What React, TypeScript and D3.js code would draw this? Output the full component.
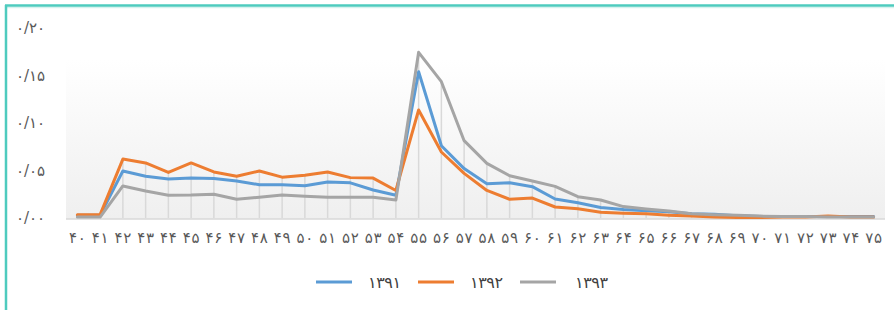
import React, { useEffect, useRef } from "react";
import { select, scaleBand, scaleLinear, line } from "d3";

// age categories (x axis), Persian digits
const ages = [
  "۴۰", "۴۱", "۴۲", "۴۳", "۴۴", "۴۵", "۴۶", "۴۷", "۴۸", "۴۹",
  "۵۰", "۵۱", "۵۲", "۵۳", "۵۴", "۵۵", "۵۶", "۵۷", "۵۸", "۵۹",
  "۶۰", "۶۱", "۶۲", "۶۳", "۶۴", "۶۵", "۶۶", "۶۷", "۶۸", "۶۹",
  "۷۰", "۷۱", "۷۲", "۷۳", "۷۴", "۷۵",
];

const s1391 = [
  0.003, 0.003, 0.0495, 0.044, 0.041, 0.042, 0.0415, 0.039, 0.035, 0.035,
  0.034, 0.038, 0.037, 0.0295, 0.024, 0.154, 0.076, 0.052, 0.036, 0.037,
  0.033, 0.02, 0.016, 0.011, 0.009, 0.0077, 0.0066, 0.0045, 0.004, 0.0025,
  0.0015, 0.0015, 0.0015, 0.0015, 0.0015, 0.0015,
];
const s1392 = [
  0.0035, 0.0035, 0.062, 0.058, 0.048, 0.058, 0.0485, 0.044, 0.0495, 0.043,
  0.045, 0.0485, 0.0425, 0.042, 0.029, 0.1137, 0.0695, 0.047, 0.029, 0.0197,
  0.021, 0.0116, 0.0098, 0.006, 0.005, 0.0045, 0.003, 0.002, 0.001, 0.0005,
  0.0005, 0.001, 0.001, 0.002, 0.001, 0.001,
];
const s1393 = [
  0.001, 0.001, 0.0337, 0.0284, 0.024, 0.0242, 0.025, 0.0197, 0.0218, 0.0242,
  0.023, 0.0218, 0.0218, 0.0218, 0.019, 0.1744, 0.1435, 0.0814, 0.0575, 0.0445,
  0.039, 0.0333, 0.0224, 0.019, 0.012, 0.0095, 0.0074, 0.0045, 0.0035, 0.003,
  0.002, 0.0015, 0.0015, 0.001, 0.001, 0.001,
];

const seriesNames = ["۱۳۹۱", "۱۳۹۲", "۱۳۹۳"];
const seriesColors = ["#5B9BD5", "#ED7D31", "#A5A5A5"];

const yTicks = [0, 0.05, 0.1, 0.15, 0.2];
const yTickLabels = ["۰/۰۰", "۰/۰۵", "۰/۱۰", "۰/۱۵", "۰/۲۰"];

const FONT = "'DejaVu Sans', sans-serif";

function App() {
  const svgRef = useRef<SVGSVGElement>(null);
  const W = 894,
    H = 310;
  const plot = { left: 66, right: 885, top: 60, bottom: 219 };

  useEffect(() => {
    const svg = select(svgRef.current);
    svg.selectAll("*").remove();

    const x = scaleBand().domain(ages).range([plot.left, plot.right]);
    const y = scaleLinear().domain([0, 0.2]).range([218, 28]);
    const cx = (a: string) => (x(a) as number) + x.bandwidth() / 2;

    const defs = svg.append("defs");
    const grad = defs
      .append("linearGradient")
      .attr("id", "bg")
      .attr("x1", 0)
      .attr("y1", 0)
      .attr("x2", 0)
      .attr("y2", 1);
    grad.append("stop").attr("offset", "0%").attr("stop-color", "#ffffff");
    grad.append("stop").attr("offset", "100%").attr("stop-color", "#efefef");

    // frame
    svg.append("rect").attr("x", 0).attr("y", 0).attr("width", W).attr("height", H).attr("fill", "#fff");
    svg.append("line").attr("x1", 5).attr("x2", W).attr("y1", 7.5).attr("y2", 7.5).attr("stroke", "#d6f2ee").attr("stroke-width", 1.5);
    svg.append("line").attr("x1", 5).attr("x2", W).attr("y1", 5.5).attr("y2", 5.5).attr("stroke", "#4ECBBE").attr("stroke-width", 2.5);
    svg.append("line").attr("x1", 6).attr("x2", 6).attr("y1", 5).attr("y2", H).attr("stroke", "#4ECBBE").attr("stroke-width", 2.5);

    // plot background
    svg
      .append("rect")
      .attr("x", plot.left)
      .attr("y", plot.top)
      .attr("width", plot.right - plot.left)
      .attr("height", plot.bottom - plot.top)
      .attr("fill", "url(#bg)");

    // drop lines
    svg
      .append("g")
      .selectAll("line")
      .data(ages)
      .join("line")
      .attr("x1", (d) => cx(d))
      .attr("x2", (d) => cx(d))
      .attr("y1", (d, i) => y(Math.max(s1391[i], s1392[i], s1393[i])))
      .attr("y2", y(0))
      .attr("stroke", "#d9d9d9")
      .attr("stroke-width", 1.5);

    // baseline
    svg
      .append("line")
      .attr("x1", plot.left)
      .attr("x2", plot.right)
      .attr("y1", y(0) + 1)
      .attr("y2", y(0) + 1)
      .attr("stroke", "#d9d9d9")
      .attr("stroke-width", 1.5);

    // y tick labels
    svg
      .append("g")
      .selectAll("text")
      .data(yTicks)
      .join("text")
      .attr("x", 16)
      .attr("y", (d) => y(d))
      .attr("dy", "0.35em")
      .attr("direction", "ltr")
      .attr("font-family", FONT)
      .attr("font-size", 15)
      .attr("textLength", 29)
      .attr("lengthAdjust", "spacing")
      .attr("fill", "#595959")
      .text((d, i) => yTickLabels[i]);

    // x tick labels
    svg
      .append("g")
      .selectAll("text")
      .data(ages)
      .join("text")
      .attr("x", (d) => cx(d) - 8.5)
      .attr("y", 238)
      .attr("dy", "0.35em")
      .attr("direction", "ltr")
      .attr("font-family", FONT)
      .attr("font-size", 15)
      .attr("textLength", 17)
      .attr("lengthAdjust", "spacing")
      .attr("fill", "#595959")
      .text((d) => d);

    // series lines
    const allSeries = [s1391, s1392, s1393];
    const lineGen = line<number>()
      .x((d, i) => cx(ages[i]))
      .y((d) => y(d));
    allSeries.forEach((s, k) => {
      svg
        .append("path")
        .attr("d", lineGen(s))
        .attr("fill", "none")
        .attr("stroke", seriesColors[k])
        .attr("stroke-width", 3)
        .attr("stroke-linejoin", "round")
        .attr("stroke-linecap", "round");
    });

    // legend
    const legendX = [316, 418, 520];
    const lg = svg.append("g");
    seriesNames.forEach((name, k) => {
      lg.append("line")
        .attr("x1", legendX[k])
        .attr("x2", legendX[k] + 36)
        .attr("y1", 282)
        .attr("y2", 282)
        .attr("stroke", seriesColors[k])
        .attr("stroke-width", 3);
      lg.append("text")
        .attr("x", legendX[k] + 52 + (k === 2 ? 3 : 0))
        .attr("y", 282)
        .attr("dy", "0.35em")
        .attr("direction", "ltr")
        .attr("font-family", FONT)
        .attr("font-size", 16)
        .attr("textLength", 33)
        .attr("lengthAdjust", "spacing")
        .attr("fill", "#404040")
        .text(name);
    });
  }, []);

  return (
    <React.Fragment>
      <svg
        ref={svgRef}
        width={W}
        height={H}
        style={{ position: "absolute", left: 0, top: 0 }}
      ></svg>
    </React.Fragment>
  );
}

export default App;
